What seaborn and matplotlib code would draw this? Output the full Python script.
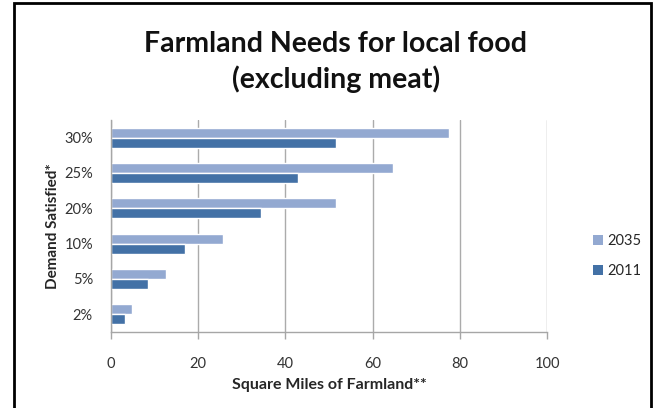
import matplotlib
matplotlib.use("Agg")
import matplotlib.pyplot as plt
import seaborn as sns
import pandas as pd
from matplotlib.patches import Rectangle, Patch

categories = ["30%", "25%", "20%", "10%", "5%", "2%"]
series_names = ["2035", "2011"]
values_2035 = [77.5, 64.6, 51.5, 25.8, 12.7, 4.9]
values_2011 = [51.5, 43.0, 34.3, 17.0, 8.5, 3.2]
x_ticks = [0, 20, 40, 60, 80, 100]

colors = {"2035": "#93A9D1", "2011": "#4371A6"}

df = pd.DataFrame({
    "Demand": categories * 2,
    "Series": ["2035"] * len(categories) + ["2011"] * len(categories),
    "Miles": values_2035 + values_2011,
})

sns.set_theme(style="white")
plt.rcParams["font.family"] = ["Lato", "DejaVu Sans"]

fig = plt.figure(figsize=(6.59, 4.08), dpi=100)
ax = fig.add_axes([111 / 659, 1 - 332 / 408, (547 - 111) / 659, (332 - 120) / 408])

sns.barplot(data=df, y="Demand", x="Miles", hue="Series", order=categories,
            hue_order=series_names, palette=colors, orient="h", width=0.57,
            ax=ax, legend=False, saturation=1)

ax.set_xlim(0, 100)
ax.set_xticks(x_ticks)
ax.set_xticklabels([str(t) for t in x_ticks], fontsize=10.5, color="#333333")
ax.tick_params(axis="y", labelsize=10.5, labelcolor="#333333", length=0, pad=13)
ax.tick_params(axis="x", length=5, width=1, color="#A6A6A6", direction="out", pad=13, bottom=True)
ax.xaxis.grid(True, color="#ABABAB", linewidth=1)
ax.set_axisbelow(True)
for s in ["top", "right"]:
    ax.spines[s].set_visible(False)
for s in ["left", "bottom"]:
    ax.spines[s].set_color("#A6A6A6")
    ax.spines[s].set_linewidth(1)

ax.set_xlabel("Square Miles of Farmland**", fontsize=11.5, fontweight="bold", labelpad=5)
ax.set_ylabel("Demand Satisfied*", fontsize=11, fontweight="bold", labelpad=3)

fig.text(336 / 659, 1 - 62 / 408, "Farmland Needs for local food\n(excluding meat)",
         ha="center", va="center", fontsize=20.5, fontweight="bold",
         linespacing=1.35, color="#111111")

handles = [Patch(facecolor=colors[n], edgecolor="none", label=n) for n in series_names]
fig.legend(handles=handles, loc="center left", bbox_to_anchor=(586 / 659, 1 - 256 / 408),
           frameon=False, fontsize=10.5, handlelength=0.65, handleheight=0.65,
           handletextpad=0.3, labelspacing=1.1, borderpad=0)

fig.patches.append(Rectangle((13.5 / 659, -0.1), (651 - 13.5) / 659, 1.1 - 3 / 408,
                             transform=fig.transFigure, fill=False,
                             edgecolor="black", linewidth=2))

fig.savefig("out.png", dpi=100)
